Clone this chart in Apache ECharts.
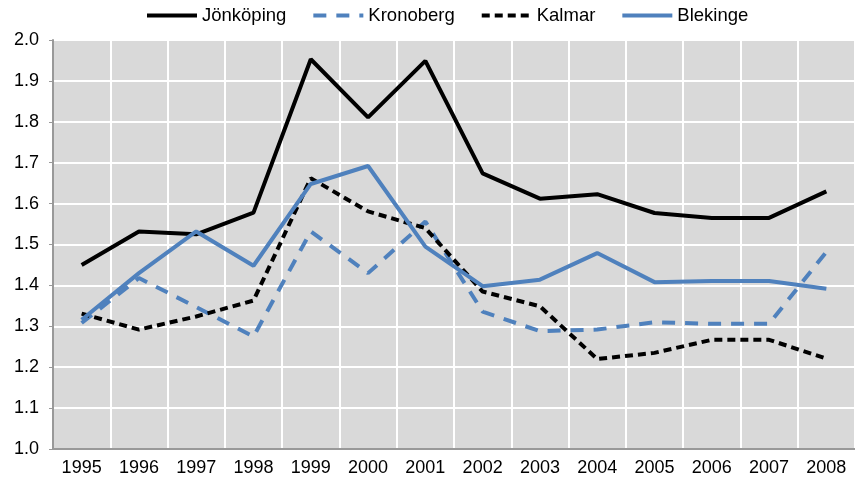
<!DOCTYPE html>
<html>
<head>
<meta charset="utf-8">
<script src="https://cdn.jsdelivr.net/npm/echarts@6/dist/echarts.min.js"></script>
<style>
  html, body { margin: 0; padding: 0; background: #fff; }
  #main { width: 855px; height: 484px; }
</style>
</head>
<body>
<div id="main"></div>
<script>
// år på x-axeln
const years = ['1995', '1996', '1997', '1998', '1999', '2000', '2001', '2002', '2003', '2004', '2005', '2006', '2007', '2008']

// värden per län
const jonkoping = [1.45, 1.532, 1.525, 1.578, 1.953, 1.811, 1.949, 1.674, 1.612, 1.623, 1.577, 1.565, 1.565, 1.630]
const kronoberg = [1.308, 1.418, 1.347, 1.275, 1.532, 1.430, 1.556, 1.336, 1.288, 1.292, 1.310, 1.306, 1.306, 1.482]
const kalmar = [1.331, 1.292, 1.324, 1.363, 1.662, 1.581, 1.540, 1.385, 1.349, 1.220, 1.235, 1.267, 1.267, 1.221]
const blekinge = [1.316, 1.430, 1.532, 1.448, 1.648, 1.692, 1.495, 1.398, 1.414, 1.479, 1.408, 1.411, 1.411, 1.392]

const font = 'Liberation Sans, Arial, sans-serif'
const blue = '#4f81bd'

const myChart = echarts.init(document.getElementById('main'))

myChart.setOption({
  animation: false,
  textStyle: { fontFamily: font },
  legend: {
    top: 1,
    left: 140,
    itemWidth: 50,
    itemHeight: 12,
    itemGap: 25,
    itemStyle: { opacity: 0 },
    lineStyle: { width: 4 },
    textStyle: { fontSize: 18.5, color: '#000', fontFamily: font }
  },
  grid: {
    left: 53,
    right: 0,
    top: 40,
    bottom: 35,
    show: true,
    backgroundColor: '#d9d9d9',
    borderWidth: 0
  },
  xAxis: {
    type: 'category',
    data: years,
    boundaryGap: true,
    axisLine: { lineStyle: { color: '#999', width: 2 } },
    axisTick: { show: false },
    axisLabel: { color: '#000', fontSize: 18, margin: 10 },
    splitLine: { show: true, lineStyle: { color: '#fff', width: 2 } }
  },
  yAxis: {
    type: 'value',
    min: 1.0,
    max: 2.0,
    interval: 0.1,
    axisLine: { show: true, lineStyle: { color: '#999', width: 2 } },
    axisTick: { show: true, length: 4, lineStyle: { color: '#999' } },
    axisLabel: {
      color: '#000',
      fontSize: 18,
      margin: 14,
      formatter: v => v.toFixed(1)
    },
    splitLine: { lineStyle: { color: '#fff', width: 2 } }
  },
  series: [
    {
      name: 'Jönköping',
      type: 'line',
      data: jonkoping,
      symbol: 'none',
      lineStyle: { color: '#000', width: 4 },
      itemStyle: { color: '#000' }
    },
    {
      name: 'Kronoberg',
      type: 'line',
      data: kronoberg,
      symbol: 'none',
      lineStyle: { color: blue, width: 4, type: [13, 10] },
      itemStyle: { color: blue }
    },
    {
      name: 'Kalmar',
      type: 'line',
      data: kalmar,
      symbol: 'none',
      lineStyle: { color: '#000', width: 4, type: [8, 5] },
      itemStyle: { color: '#000' }
    },
    {
      name: 'Blekinge',
      type: 'line',
      data: blekinge,
      symbol: 'none',
      lineStyle: { color: blue, width: 4 },
      itemStyle: { color: blue }
    }
  ]
})
</script>
</body>
</html>
